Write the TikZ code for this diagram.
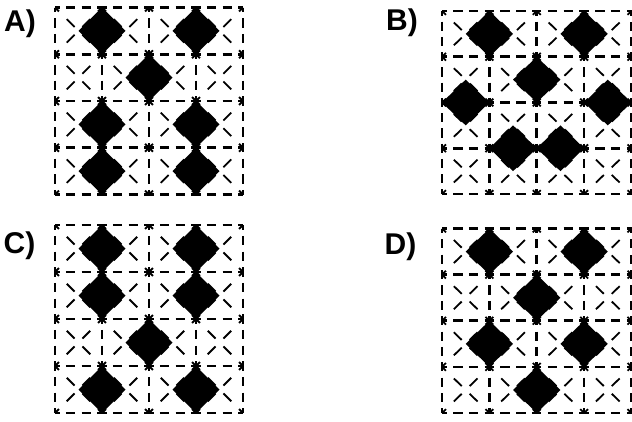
\documentclass[tikz,border=0pt]{standalone}
\usepackage{fontspec}
\setmainfont{Liberation Sans}
\usetikzlibrary{positioning}
\tikzset{
  gridline/.style={line width=2.7pt, color=black},
  diagline/.style={line width=1.8pt, color=black},
  tile/.style={fill=black},
  panellabel/.style={font=\fontsize{30}{30}\selectfont\bfseries,
    inner sep=0pt, anchor=base west}
}
% one 4x4 panel: #1,#2 top-left corner, #3 width, #4 height, #5 tiles (cell units)
\newcommand{\drawpanel}[5]{%
  \pgfmathsetmacro{\cw}{#3/4}
  \pgfmathsetmacro{\ch}{#4/4}
  \pgfmathsetmacro{\hon}{0.6*\cw/3}
  \pgfmathsetmacro{\hoff}{0.4*\cw/3}
  \pgfmathsetmacro{\von}{0.6*\ch/3}
  \pgfmathsetmacro{\voff}{0.4*\ch/3}
  \pgfmathsetmacro{\pd}{sqrt(\cw*\cw+\ch*\ch)/3}
  \pgfmathsetmacro{\don}{0.5*\pd}
  \pgfmathsetmacro{\doff}{0.5*\pd}
  \begin{scope}[shift={(#1,#2)}, x=\cw pt, y=-\ch pt]
    % dashed diagonals in every cell
    \foreach \i in {0,...,3}{
      \foreach \j in {0,...,3}{
        \draw[diagline, dash pattern=on \don pt off \doff pt, dash phase=0.5*\don pt]
          (\i,\j) -- ++(1,1);
        \draw[diagline, dash pattern=on \don pt off \doff pt, dash phase=0.5*\don pt]
          (\i+1,\j) -- ++(-1,1);
      }
    }
    % dashed grid
    \foreach \k in {0,...,4}{
      \draw[gridline, dash pattern=on \hon pt off \hoff pt, dash phase=0.5*\hon pt]
        (0,\k) -- (4,\k);
      \draw[gridline, dash pattern=on \von pt off \voff pt, dash phase=0.5*\von pt]
        (\k,0) -- (\k,4);
    }
    % black tiles
    \foreach \cx/\cy in {#5}{
      \fill[tile] (\cx-0.5,\cy) -- (\cx,\cy-0.5) -- (\cx+0.5,\cy) -- (\cx,\cy+0.5) -- cycle;
    }
  \end{scope}
}

\begin{document}
\begin{tikzpicture}[x=1pt, y=-1pt]
  \useasboundingbox (0,0) rectangle (632,421);

  % Panel A (top left)
  \node[panellabel] (labA) at (4,31) {A)};
  \drawpanel{55}{7.5}{188}{187}{1/0.5, 3/0.5, 2/1.5, 1/2.5, 3/2.5, 1/3.5, 3/3.5}

  % Panel B (top right)
  \node[panellabel] (labB) at (386,30) {B)};
  \drawpanel{442}{11}{189.5}{183}{1/0.5, 3/0.5, 2/1.5, 0.5/2, 3.5/2, 1.5/3, 2.5/3}

  % Panel C (bottom left)
  \node[panellabel] (labC) at (3.5,253.5) {C)};
  \drawpanel{55}{225}{188}{188}{1/0.5, 3/0.5, 1/1.5, 3/1.5, 2/2.5, 1/3.5, 3/3.5}

  % Panel D (bottom right)
  \node[panellabel] (labD) at (384.5,254.5) {D)};
  \drawpanel{442}{228.5}{189.5}{184.5}{1/0.5, 3/0.5, 2/1.5, 1/2.5, 3/2.5, 2/3.5}
\end{tikzpicture}
\end{document}
